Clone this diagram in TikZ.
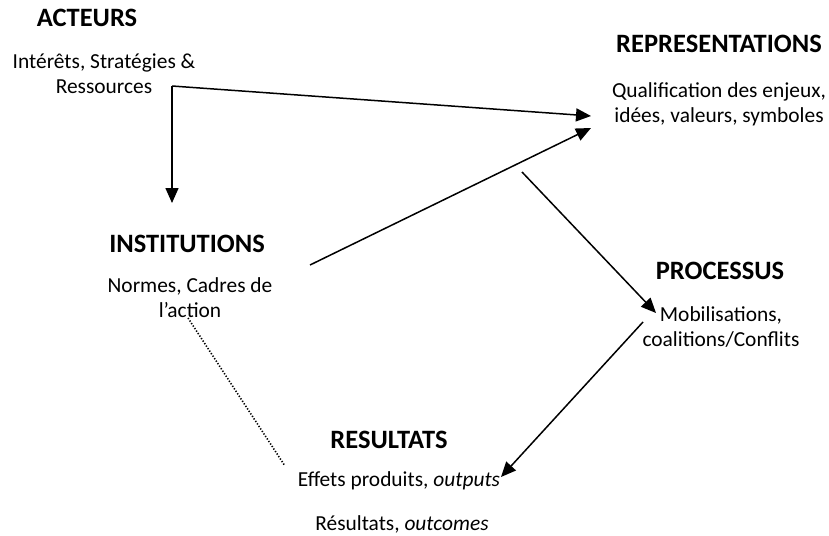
\documentclass[tikz,border=0pt]{standalone}
\usepackage{fontspec}
\setmainfont{Carlito}
\usetikzlibrary{arrows.meta}
\begin{document}
\begin{tikzpicture}[x=1pt,y=-1pt,
    titre/.style={inner sep=0pt,font=\fontsize{26.5}{30}\selectfont\bfseries},
    texte/.style={inner sep=0pt,align=center,font=\fontsize{21.4}{25}\selectfont},
    fleche/.style={-{Triangle[length=15pt,width=13pt]},line width=1.5pt}]
    \useasboundingbox (0,0) rectangle (829,535);
    % Acteurs
    \node[titre] (acteurs) at (87,18) {ACTEURS};
    \node[texte] (acteurs-txt) at (104,74) {Intérêts, Stratégies \&\\Ressources};
    % Representations
    \node[titre] (repr) at (719,44) {REPRESENTATIONS};
    \node[texte] (repr-txt) at (719,104) {Qualification des enjeux,\\idées, valeurs, symboles};
    % Institutions
    \node[titre] (instit) at (187,244) {INSTITUTIONS};
    \node[texte] (instit-txt) at (190,298) {Normes, Cadres de\\l’action};
    % Processus
    \node[titre] (proc) at (720,271) {PROCESSUS};
    \node[texte] (proc-txt) at (721,327) {Mobilisations,\\coalitions/Conflits};
    % Resultats
    \node[titre] (result) at (389,440) {RESULTATS};
    \node[texte] (result-out) at (399,481) {Effets produits, \textit{outputs}};
    \node[texte] (result-outc) at (402,524) {Résultats, \textit{outcomes}};
    % Points d'attache
    \coordinate (coin) at (172,86);
    \coordinate (acteurs-bas) at (172,203);
    \coordinate (repr-g1) at (591,116);
    \coordinate (repr-g2) at (591,128);
    \coordinate (instit-d) at (310,265);
    \coordinate (repr-b) at (522,172);
    \coordinate (proc-g) at (656,313);
    \coordinate (proc-b) at (643,322);
    \coordinate (result-d) at (501,477);
    \coordinate (instit-b) at (188,318);
    \coordinate (result-g) at (285,466);
    % Fleches
    \draw[fleche] (coin) -- (repr-g1);
    \draw[fleche] (coin) -- (acteurs-bas);
    \draw[fleche] (instit-d) -- (repr-g2);
    \draw[fleche] (repr-b) -- (proc-g);
    \draw[fleche] (proc-b) -- (result-d);
    \draw[line width=1.6pt,dash pattern=on 1.3pt off 1.7pt] (instit-b) -- (result-g);
\end{tikzpicture}
\end{document}
